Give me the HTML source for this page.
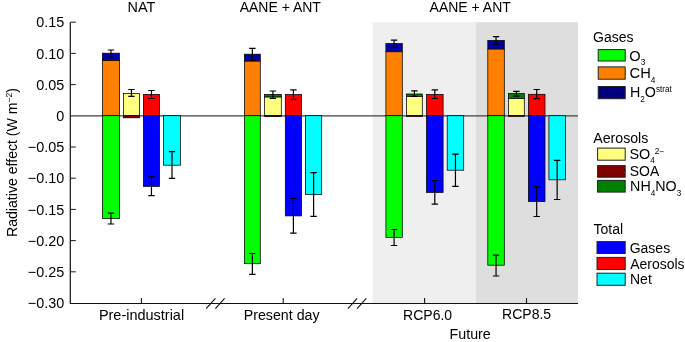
<!DOCTYPE html><html><head><meta charset="utf-8"><style>
html,body{margin:0;padding:0;background:#fff;width:685px;height:342px;overflow:hidden}
svg{display:block;will-change:transform}
text{font-family:"Liberation Sans",sans-serif;font-size:14px;fill:#000}
</style></head><body>
<svg width="685" height="342" viewBox="0 0 685 342">
<rect x="372.5" y="22.2" width="103.2" height="281" fill="#efefef"/>
<rect x="475.7" y="22.2" width="102.3" height="281" fill="#dedede"/>
<line x1="70.5" y1="115.9" x2="578" y2="115.9" stroke="#404040" stroke-width="1.4"/>
<rect x="102.40" y="53.20" width="17.10" height="7.30" fill="#0000a8" stroke="#000" stroke-width="0.75"/>
<rect x="102.40" y="60.50" width="17.10" height="55.20" fill="#ff8000" stroke="#000" stroke-width="0.75"/>
<rect x="102.40" y="115.70" width="17.10" height="102.70" fill="#00ff00" stroke="#000" stroke-width="0.75"/>
<rect x="123.40" y="93.40" width="16.10" height="22.30" fill="#ffff80" stroke="#000" stroke-width="0.75"/>
<rect x="123.40" y="115.70" width="16.10" height="2.10" fill="#800000" stroke="#000" stroke-width="0.75"/>
<rect x="143.40" y="94.40" width="16.10" height="21.30" fill="#ff0000" stroke="#000" stroke-width="0.75"/>
<rect x="143.40" y="115.70" width="16.10" height="70.70" fill="#0000ff" stroke="#000" stroke-width="0.75"/>
<rect x="163.60" y="115.70" width="16.80" height="49.50" fill="#00ffff" stroke="#000" stroke-width="0.75"/>
<rect x="244.40" y="54.20" width="15.90" height="7.00" fill="#0000a8" stroke="#000" stroke-width="0.75"/>
<rect x="244.40" y="61.20" width="15.90" height="54.50" fill="#ff8000" stroke="#000" stroke-width="0.75"/>
<rect x="244.40" y="115.70" width="15.90" height="148.00" fill="#00ff00" stroke="#000" stroke-width="0.75"/>
<rect x="264.50" y="94.40" width="16.80" height="2.70" fill="#008000" stroke="#000" stroke-width="0.75"/>
<rect x="264.50" y="97.10" width="16.80" height="18.60" fill="#ffff80" stroke="#000" stroke-width="0.75"/>
<rect x="264.50" y="115.70" width="16.80" height="0.90" fill="#800000" stroke="#000" stroke-width="0.75"/>
<rect x="285.30" y="94.50" width="16.20" height="21.20" fill="#ff0000" stroke="#000" stroke-width="0.75"/>
<rect x="285.30" y="115.70" width="16.20" height="100.20" fill="#0000ff" stroke="#000" stroke-width="0.75"/>
<rect x="305.50" y="115.70" width="16.20" height="78.80" fill="#00ffff" stroke="#000" stroke-width="0.75"/>
<rect x="385.90" y="43.60" width="16.40" height="8.20" fill="#0000a8" stroke="#000" stroke-width="0.75"/>
<rect x="385.90" y="51.80" width="16.40" height="63.90" fill="#ff8000" stroke="#000" stroke-width="0.75"/>
<rect x="385.90" y="115.70" width="16.40" height="121.70" fill="#00ff00" stroke="#000" stroke-width="0.75"/>
<rect x="406.50" y="94.00" width="15.80" height="2.50" fill="#008000" stroke="#000" stroke-width="0.75"/>
<rect x="406.50" y="96.50" width="15.80" height="19.20" fill="#ffff80" stroke="#000" stroke-width="0.75"/>
<rect x="406.50" y="115.70" width="15.80" height="0.60" fill="#800000" stroke="#000" stroke-width="0.75"/>
<rect x="426.50" y="94.40" width="16.60" height="21.30" fill="#ff0000" stroke="#000" stroke-width="0.75"/>
<rect x="426.50" y="115.70" width="16.60" height="76.70" fill="#0000ff" stroke="#000" stroke-width="0.75"/>
<rect x="447.20" y="115.70" width="16.50" height="54.50" fill="#00ffff" stroke="#000" stroke-width="0.75"/>
<rect x="487.80" y="40.50" width="16.50" height="8.60" fill="#0000a8" stroke="#000" stroke-width="0.75"/>
<rect x="487.80" y="49.10" width="16.50" height="66.60" fill="#ff8000" stroke="#000" stroke-width="0.75"/>
<rect x="487.80" y="115.70" width="16.50" height="149.50" fill="#00ff00" stroke="#000" stroke-width="0.75"/>
<rect x="508.50" y="93.60" width="15.80" height="5.00" fill="#008000" stroke="#000" stroke-width="0.75"/>
<rect x="508.50" y="98.60" width="15.80" height="17.10" fill="#ffff80" stroke="#000" stroke-width="0.75"/>
<rect x="508.50" y="115.70" width="15.80" height="0.60" fill="#800000" stroke="#000" stroke-width="0.75"/>
<rect x="528.40" y="94.30" width="16.60" height="21.40" fill="#ff0000" stroke="#000" stroke-width="0.75"/>
<rect x="528.40" y="115.70" width="16.60" height="85.70" fill="#0000ff" stroke="#000" stroke-width="0.75"/>
<rect x="548.90" y="115.70" width="16.50" height="64.10" fill="#00ffff" stroke="#000" stroke-width="0.75"/>
<path d="M110.95 50.00V57.30M107.75 50.00H114.15M107.75 57.30H114.15" stroke="#000" stroke-width="1.2" fill="none"/>
<path d="M110.95 213.20V224.00M107.75 213.20H114.15M107.75 224.00H114.15" stroke="#000" stroke-width="1.2" fill="none"/>
<path d="M131.45 89.50V96.40M128.25 89.50H134.65M128.25 96.40H134.65" stroke="#000" stroke-width="1.2" fill="none"/>
<path d="M151.45 90.50V98.50M148.25 90.50H154.65M148.25 98.50H154.65" stroke="#000" stroke-width="1.2" fill="none"/>
<path d="M151.45 176.80V195.70M148.25 176.80H154.65M148.25 195.70H154.65" stroke="#000" stroke-width="1.2" fill="none"/>
<path d="M172.00 151.60V178.40M168.80 151.60H175.20M168.80 178.40H175.20" stroke="#000" stroke-width="1.2" fill="none"/>
<path d="M252.35 48.30V60.50M249.15 48.30H255.55M249.15 60.50H255.55" stroke="#000" stroke-width="1.2" fill="none"/>
<path d="M252.35 253.50V274.30M249.15 253.50H255.55M249.15 274.30H255.55" stroke="#000" stroke-width="1.2" fill="none"/>
<path d="M272.90 91.00V98.30M269.70 91.00H276.10M269.70 98.30H276.10" stroke="#000" stroke-width="1.2" fill="none"/>
<path d="M293.40 89.90V99.40M290.20 89.90H296.60M290.20 99.40H296.60" stroke="#000" stroke-width="1.2" fill="none"/>
<path d="M293.40 198.40V233.20M290.20 198.40H296.60M290.20 233.20H296.60" stroke="#000" stroke-width="1.2" fill="none"/>
<path d="M313.60 172.60V216.30M310.40 172.60H316.80M310.40 216.30H316.80" stroke="#000" stroke-width="1.2" fill="none"/>
<path d="M394.10 40.10V47.40M390.90 40.10H397.30M390.90 47.40H397.30" stroke="#000" stroke-width="1.2" fill="none"/>
<path d="M394.10 229.50V245.50M390.90 229.50H397.30M390.90 245.50H397.30" stroke="#000" stroke-width="1.2" fill="none"/>
<path d="M414.40 90.80V96.40M411.20 90.80H417.60M411.20 96.40H417.60" stroke="#000" stroke-width="1.2" fill="none"/>
<path d="M434.80 89.80V98.50M431.60 89.80H438.00M431.60 98.50H438.00" stroke="#000" stroke-width="1.2" fill="none"/>
<path d="M434.80 180.50V204.20M431.60 180.50H438.00M431.60 204.20H438.00" stroke="#000" stroke-width="1.2" fill="none"/>
<path d="M455.45 154.10V186.40M452.25 154.10H458.65M452.25 186.40H458.65" stroke="#000" stroke-width="1.2" fill="none"/>
<path d="M496.05 36.60V44.50M492.85 36.60H499.25M492.85 44.50H499.25" stroke="#000" stroke-width="1.2" fill="none"/>
<path d="M496.05 255.10V276.00M492.85 255.10H499.25M492.85 276.00H499.25" stroke="#000" stroke-width="1.2" fill="none"/>
<path d="M516.40 91.40V96.10M513.20 91.40H519.60M513.20 96.10H519.60" stroke="#000" stroke-width="1.2" fill="none"/>
<path d="M536.70 89.50V98.70M533.50 89.50H539.90M533.50 98.70H539.90" stroke="#000" stroke-width="1.2" fill="none"/>
<path d="M536.70 186.80V216.50M533.50 186.80H539.90M533.50 216.50H539.90" stroke="#000" stroke-width="1.2" fill="none"/>
<path d="M557.15 160.40V199.50M553.95 160.40H560.35M553.95 199.50H560.35" stroke="#000" stroke-width="1.2" fill="none"/>
<path d="M70.3 22.2V303" stroke="#1a1a1a" stroke-width="1.25" fill="none"/>
<path d="M69.7 303.5H578" stroke="#111" stroke-width="1.1" fill="none"/>
<line x1="70.5" y1="22.20" x2="75.8" y2="22.20" stroke="#222" stroke-width="1.05"/>
<text transform="translate(64.30,27.40) scale(1.03,1.042)" text-anchor="end" font-size="14">0.15</text>
<line x1="70.5" y1="53.40" x2="75.8" y2="53.40" stroke="#222" stroke-width="1.05"/>
<text transform="translate(64.30,58.60) scale(1.03,1.042)" text-anchor="end" font-size="14">0.10</text>
<line x1="70.5" y1="84.60" x2="75.8" y2="84.60" stroke="#222" stroke-width="1.05"/>
<text transform="translate(64.30,89.80) scale(1.03,1.042)" text-anchor="end" font-size="14">0.05</text>
<text transform="translate(64.30,121.00) scale(1.03,1.042)" text-anchor="end" font-size="14">0</text>
<line x1="70.5" y1="147.00" x2="75.8" y2="147.00" stroke="#222" stroke-width="1.05"/>
<text transform="translate(64.30,152.20) scale(1.03,1.042)" text-anchor="end" font-size="14">−0.05</text>
<line x1="70.5" y1="178.20" x2="75.8" y2="178.20" stroke="#222" stroke-width="1.05"/>
<text transform="translate(64.30,183.40) scale(1.03,1.042)" text-anchor="end" font-size="14">−0.10</text>
<line x1="70.5" y1="209.40" x2="75.8" y2="209.40" stroke="#222" stroke-width="1.05"/>
<text transform="translate(64.30,214.60) scale(1.03,1.042)" text-anchor="end" font-size="14">−0.15</text>
<line x1="70.5" y1="240.60" x2="75.8" y2="240.60" stroke="#222" stroke-width="1.05"/>
<text transform="translate(64.30,245.80) scale(1.03,1.042)" text-anchor="end" font-size="14">−0.20</text>
<line x1="70.5" y1="271.80" x2="75.8" y2="271.80" stroke="#222" stroke-width="1.05"/>
<text transform="translate(64.30,277.00) scale(1.03,1.042)" text-anchor="end" font-size="14">−0.25</text>
<text transform="translate(64.30,308.20) scale(1.03,1.042)" text-anchor="end" font-size="14">−0.30</text>
<line x1="141.4" y1="298" x2="141.4" y2="303" stroke="#111" stroke-width="1.1"/>
<line x1="283.2" y1="298" x2="283.2" y2="303" stroke="#111" stroke-width="1.1"/>
<line x1="424.6" y1="298" x2="424.6" y2="303" stroke="#111" stroke-width="1.1"/>
<line x1="526.5" y1="298" x2="526.5" y2="303" stroke="#111" stroke-width="1.1"/>
<path d="M206.2 308.6L215.39999999999998 298.3M215.39999999999998 308.6L224.6 298.3" stroke="#111" stroke-width="1.1" fill="none"/>
<path d="M347.9 308.6L357.09999999999997 298.3M357.09999999999997 308.6L366.29999999999995 298.3" stroke="#111" stroke-width="1.1" fill="none"/>
<text transform="translate(141.40,11.80) scale(1.03,1.042)" text-anchor="middle" font-size="14">NAT</text>
<text transform="translate(280.30,11.70) scale(1.0,1.042)" text-anchor="middle" font-size="14">AANE + ANT</text>
<text transform="translate(470.20,11.70) scale(1.0,1.042)" text-anchor="middle" font-size="14">AANE + ANT</text>
<text transform="translate(141.50,319.70) scale(1.035,1.042)" text-anchor="middle" font-size="14">Pre-industrial</text>
<text transform="translate(281.65,319.80) scale(1.017,1.042)" text-anchor="middle" font-size="14">Present day</text>
<text transform="translate(427.60,319.50) scale(1.0,1.042)" text-anchor="middle" font-size="14">RCP6.0</text>
<text transform="translate(526.60,319.30) scale(1.0,1.042)" text-anchor="middle" font-size="14">RCP8.5</text>
<text transform="translate(470.20,338.90) scale(1.019,1.042)" text-anchor="middle" font-size="14">Future</text>
<text transform="translate(593.00,42.20) scale(1.0,1.042)" text-anchor="start" font-size="14">Gases</text>
<text transform="translate(593.20,143.00) scale(1.013,1.042)" text-anchor="start" font-size="14">Aerosols</text>
<text transform="translate(593.60,233.90) scale(1.0,1.042)" text-anchor="start" font-size="14">Total</text>
<text transform="translate(629.30,60.70) scale(1.045,1.042)" text-anchor="start" font-size="14">O<tspan dy="4.4" font-size="8">3</tspan></text>
<text transform="translate(629.60,78.00) scale(1.05,1.042)" text-anchor="start" font-size="14">CH<tspan dy="4.7" font-size="8">4</tspan></text>
<text transform="translate(630.00,96.90) scale(1.02,1.042)" text-anchor="start" font-size="14">H<tspan dy="4.8" font-size="8">2</tspan><tspan dy="-4.8">O</tspan><tspan dy="-4.9" font-size="8">strat</tspan></text>
<text transform="translate(629.40,159.10) scale(1.03,1.042)" text-anchor="start" font-size="14">SO<tspan dy="4.1" font-size="8">4</tspan><tspan dy="-9.3" font-size="8">2−</tspan></text>
<text transform="translate(629.70,175.80) scale(1.0,1.042)" text-anchor="start" font-size="14">SOA</text>
<text transform="translate(630.10,190.70) scale(1.02,1.042)" text-anchor="start" font-size="14">NH<tspan dy="4.9" font-size="8">4</tspan><tspan dy="-4.9">NO</tspan><tspan dy="5.4" font-size="8">3</tspan></text>
<text transform="translate(629.70,252.70) scale(1.0,1.042)" text-anchor="start" font-size="14">Gases</text>
<text transform="translate(630.20,268.70) scale(1.0,1.042)" text-anchor="start" font-size="14">Aerosols</text>
<text transform="translate(630.00,284.00) scale(1.0,1.042)" text-anchor="start" font-size="14">Net</text>
<text transform="translate(16.6,162.5) rotate(-90) scale(1.008,1.042)" text-anchor="middle">Radiative effect (W m<tspan dy="-4" font-size="8.5">−2</tspan><tspan dy="4">)</tspan></text>
<rect x="598.2" y="49.6" width="27.00" height="11.40" fill="#00ff00" stroke="#222" stroke-width="1"/>
<rect x="598.2" y="66.9" width="27.00" height="12.30" fill="#ff8000" stroke="#222" stroke-width="1"/>
<rect x="598.2" y="86.5" width="27.00" height="12.20" fill="#000080" stroke="#222" stroke-width="1"/>
<rect x="597.6" y="148.1" width="27.60" height="12.10" fill="#ffff80" stroke="#222" stroke-width="1"/>
<rect x="597.6" y="165.6" width="27.60" height="11.60" fill="#800000" stroke="#222" stroke-width="1"/>
<rect x="597.6" y="180.4" width="27.60" height="11.70" fill="#008000" stroke="#222" stroke-width="1"/>
<rect x="597.0" y="241.6" width="28.20" height="11.90" fill="#0000ff" stroke="#222" stroke-width="1"/>
<rect x="597.0" y="257.4" width="28.20" height="12.10" fill="#ff0000" stroke="#222" stroke-width="1"/>
<rect x="597.0" y="273.2" width="28.20" height="12.10" fill="#00ffff" stroke="#222" stroke-width="1"/>
</svg></body></html>
